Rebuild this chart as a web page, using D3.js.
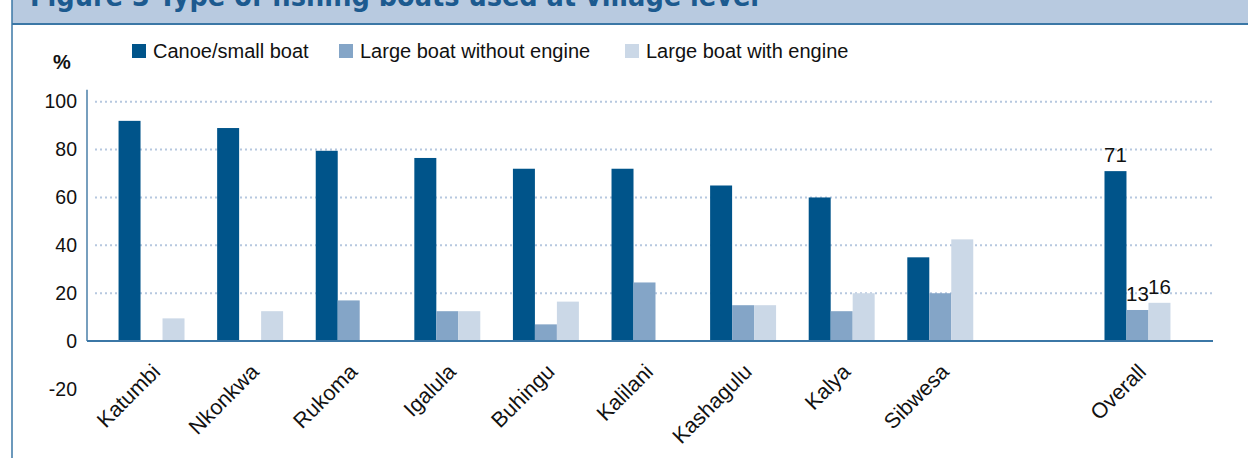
<!DOCTYPE html>
<html>
<head>
<meta charset="utf-8">
<script src="https://cdn.jsdelivr.net/npm/d3@7"></script>
<style>
  body { margin: 0; background: #fff; }
  text { font-family: "Liberation Sans", Arial, sans-serif; fill: #111; }
</style>
</head>
<body>
<div class="canva"></div>
<script>
// data
const villages = ["Katumbi", "Nkonkwa", "Rukoma", "Igalula", "Buhingu", "Kalilani", "Kashagulu", "Kalya", "Sibwesa"];
const overallLabel = "Overall";
const seriesNames = ["Canoe/small boat", "Large boat without engine", "Large boat with engine"];
const canoe      = [92, 89, 79.5, 76.5, 72, 72, 65, 60, 35, 71];
const noEngine   = [0, 0, 17, 12.5, 7, 24.5, 15, 12.5, 20, 13];
const withEngine = [9.5, 12.5, 0, 12.5, 16.5, 0, 15, 20, 42.5, 16];
const yTicks = [-20, 0, 20, 40, 60, 80, 100];
const gridTicks = [20, 40, 60, 80, 100];
const titleText = "Figure 3 Type of fishing boats used at village level";

const colors = ["#00548a", "#84a5c7", "#cbd8e7"];

const width = 1248, height = 458;
const plotLeft = 87, plotRight = 1213;

const svg = d3.select(".canva").append("svg")
    .attr("width", width)
    .attr("height", height);

// header band + frame
svg.append("rect")
    .attr("x", 12).attr("y", 0)
    .attr("width", width - 12).attr("height", 24)
    .attr("fill", "#b8cae0");
svg.append("text")
    .attr("x", 30).attr("y", 6)
    .style("font-family", "'Liberation Sans Narrow', 'DejaVu Sans Condensed', sans-serif")
    .style("font-weight", "bold")
    .style("font-size", "28.5px")
    .style("fill", "#1c5a8f")
    .text(titleText);
svg.append("line")
    .attr("x1", 12).attr("x2", width)
    .attr("y1", 24).attr("y2", 24)
    .attr("stroke", "#3b77a6").attr("stroke-width", 2);
svg.append("line")
    .attr("x1", 12).attr("x2", 12)
    .attr("y1", 0).attr("y2", height)
    .attr("stroke", "#3b77a6").attr("stroke-width", 1.5);

const slots = [...villages, " ", overallLabel];
const rows = slots.map(name => {
    const i = name === overallLabel ? villages.length : villages.indexOf(name);
    return { name, values: i < 0 ? [] : [canoe[i], noEngine[i], withEngine[i]] };
});

const x = d3.scaleBand()
    .domain(slots)
    .range([plotLeft, plotRight - 11])
    .paddingInner(0.331)
    .paddingOuter(0.32);

const xSeries = d3.scaleBand()
    .domain(d3.range(seriesNames.length))
    .range([0, x.bandwidth()]);

const y = d3.scaleLinear()
    .domain([-20, 100])
    .range([389, 101.7]);

// gridlines
svg.append("g")
    .selectAll("line")
    .data(gridTicks)
    .enter().append("line")
    .attr("x1", plotLeft + 8).attr("x2", plotRight)
    .attr("y1", d => y(d)).attr("y2", d => y(d))
    .attr("stroke", "#b6c8df")
    .attr("stroke-width", 2)
    .attr("stroke-dasharray", "2,3");

// y axis
const yAxis = d3.axisLeft(y)
    .tickValues(yTicks)
    .tickFormat(d => String(d))
    .tickSize(0)
    .tickPadding(10);
const yG = svg.append("g")
    .attr("transform", `translate(${plotLeft},0)`)
    .call(yAxis);
yG.select(".domain").remove();
yG.selectAll("text")
    .style("font-size", "19.5px")
    .attr("fill", "#111");

svg.append("line")
    .attr("x1", plotLeft).attr("x2", plotLeft)
    .attr("y1", y(105)).attr("y2", y(0))
    .attr("stroke", "#4a7fa8").attr("stroke-width", 1.5);

svg.append("text")
    .attr("x", 62).attr("y", 69)
    .attr("text-anchor", "middle")
    .style("font-weight", "bold")
    .style("font-size", "20px")
    .text("%");

// bars
const groups = svg.append("g")
    .selectAll("g")
    .data(rows.filter(r => r.values.length))
    .enter().append("g")
    .attr("transform", d => `translate(${x(d.name)},0)`);

groups.selectAll("rect")
    .data(d => d.values.map((v, k) => ({ v, k })))
    .enter().append("rect")
    .attr("x", d => xSeries(d.k))
    .attr("width", xSeries.bandwidth())
    .attr("y", d => y(d.v))
    .attr("height", d => y(0) - y(d.v))
    .attr("fill", d => colors[d.k]);

// value labels on Overall only
groups.filter(d => d.name === overallLabel)
    .selectAll(".val")
    .data(d => d.values.map((v, k) => ({ v, k })))
    .enter().append("text")
    .attr("class", "val")
    .attr("x", d => xSeries(d.k) + xSeries.bandwidth() / 2)
    .attr("y", d => y(d.v) - 9)
    .attr("text-anchor", "middle")
    .style("font-size", "20.5px")
    .text(d => d.v);

// baseline
svg.append("line")
    .attr("x1", plotLeft).attr("x2", plotRight)
    .attr("y1", y(0)).attr("y2", y(0))
    .attr("stroke", "#3b77a6").attr("stroke-width", 2);

// category labels
svg.append("g")
    .selectAll("text")
    .data(slots.filter(s => s.trim()))
    .enter().append("text")
    .attr("transform", d => `translate(${x(d) + x.bandwidth() / 2 + 10},${y(0) + 32}) rotate(-45)`)
    .attr("text-anchor", "end")
    .style("font-size", "21.5px")
    .text(d => d);

// legend
const legendX = [132, 339, 625];
const legend = svg.append("g")
    .selectAll("g")
    .data(seriesNames)
    .enter().append("g")
    .attr("transform", (d, i) => `translate(${legendX[i]},44)`);
legend.append("rect")
    .attr("width", 14).attr("height", 14)
    .attr("fill", (d, i) => colors[i]);
legend.append("text")
    .attr("x", 21).attr("y", 14)
    .style("font-size", "20px")
    .text(d => d);
</script>
</body>
</html>
